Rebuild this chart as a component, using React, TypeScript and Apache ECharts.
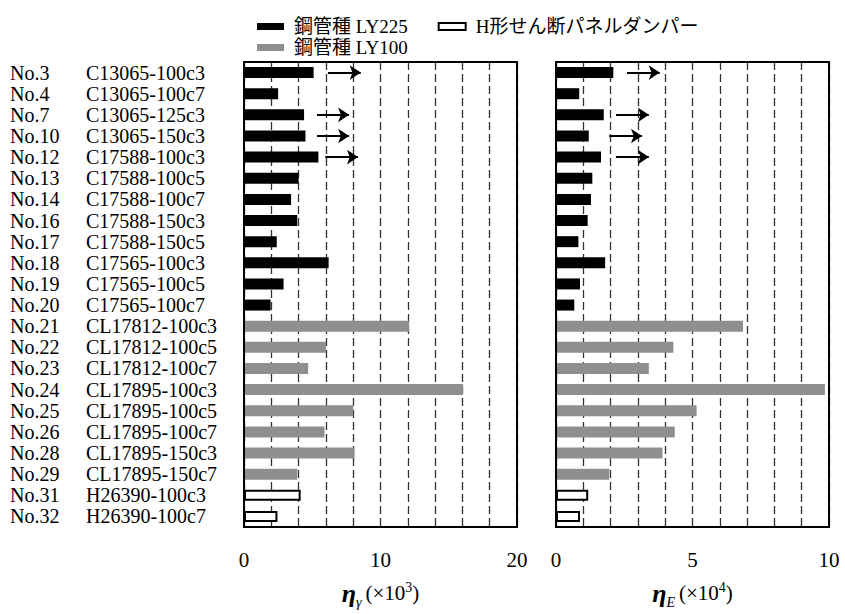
import React, { useEffect, useRef } from "react";
import * as echarts from "echarts";

const ids = ["No.3","No.4","No.7","No.10","No.12","No.13","No.14","No.16","No.17","No.18","No.19","No.20","No.21","No.22","No.23","No.24","No.25","No.26","No.28","No.29","No.31","No.32"];
const specimens = ["C13065-100c3","C13065-100c7","C13065-125c3","C13065-150c3","C17588-100c3","C17588-100c5","C17588-100c7","C17588-150c3","C17588-150c5","C17565-100c3","C17565-100c5","C17565-100c7","CL17812-100c3","CL17812-100c5","CL17812-100c7","CL17895-100c3","CL17895-100c5","CL17895-100c7","CL17895-150c3","CL17895-150c7","H26390-100c3","H26390-100c7"];

const seriesNames = ["鋼管種 LY225", "鋼管種 LY100", "H形せん断パネルダンパー"];

// eta_gamma (x10^3)
const gammaLY225 = [5.1, 2.5, 4.4, 4.5, 5.45, 4.0, 3.45, 3.9, 2.4, 6.2, 2.9, 1.95];
const gammaLY100 = [12.1, 6.0, 4.7, 16.05, 8.0, 5.9, 8.1, 3.9];
const gammaH = [4.15, 2.45];
// eta_E (x10^4)
const eLY225 = [2.1, 0.85, 1.75, 1.2, 1.65, 1.33, 1.28, 1.16, 0.82, 1.8, 0.88, 0.67];
const eLY100 = [6.85, 4.3, 3.4, 9.85, 5.15, 4.35, 3.9, 1.95];
const eH = [1.18, 0.88];

// arrows (specimen, from, to)
const gammaArrowIds = ["No.3", "No.7", "No.10", "No.12"];
const gammaArrowFrom = [6.15, 5.35, 5.35, 5.95];
const gammaArrowTo = [8.55, 7.7, 7.7, 8.35];
const eArrowIds = ["No.3", "No.7", "No.10", "No.12"];
const eArrowFrom = [2.6, 2.2, 1.95, 2.2];
const eArrowTo = [3.8, 3.4, 3.15, 3.4];

const SERIF = "'Liberation Serif', 'Noto Sans CJK JP', serif";

function pad(vals: number[], offset: number): (number | string)[] {
  const out: (number | string)[] = ids.map(() => "-");
  vals.forEach((v, i) => (out[offset + i] = v));
  return out;
}

export default function App() {
  const ref = useRef<HTMLDivElement>(null);
  useEffect(() => {
    if (!ref.current) return;
    const chart = echarts.init(ref.current, undefined, { renderer: "svg" });

    const styles = [
      { color: "#000000" },
      { color: "#8f8f8f" },
      { color: "#ffffff", borderColor: "#000000", borderWidth: 2 },
    ];

    const makeArrows = (aIds: string[], from: number[], to: number[]) => ({
      silent: true,
      symbol: ["none", "arrow"],
      symbolSize: [11, 11],
      label: { show: false },
      lineStyle: { color: "#000", width: 2, type: "solid" },
      data: aIds.map((id, i) => [
        { coord: [from[i], id] },
        { coord: [to[i], id] },
      ]),
    });

    const buildSeries = (axisIdx: number, a: number[], b: number[], c: number[], arrows: any) => [
      { name: seriesNames[0], data: pad(a, 0), markLine: arrows },
      { name: seriesNames[1], data: pad(b, a.length) },
      { name: seriesNames[2], data: pad(c, a.length + b.length) },
    ].map((s, i) => ({
      ...s,
      type: "bar",
      stack: "p" + axisIdx,
      xAxisIndex: axisIdx,
      yAxisIndex: axisIdx,
      barWidth: 11,
      itemStyle: styles[i],
    }));

    const xAxisCommon = {
      type: "value",
      axisTick: { show: false },
      axisLine: { show: false },
      nameLocation: "middle",
      nameGap: 50,
      splitLine: { show: true, lineStyle: { color: "#333", width: 1.3, type: [8, 4] } },
    };

    const nameRich = {
      eta: { fontFamily: SERIF, fontSize: 26, fontWeight: "bold", fontStyle: "italic", color: "#000", lineHeight: 32 },
      sub: { fontFamily: SERIF, fontSize: 14, fontStyle: "italic", color: "#000", verticalAlign: "bottom", lineHeight: 32, padding: [0, 4, 0, 0] },
      txt: { fontFamily: SERIF, fontSize: 21, color: "#000", lineHeight: 32 },
      sup: { fontFamily: SERIF, fontSize: 14, color: "#000", verticalAlign: "top", lineHeight: 32, padding: [4, 0, 0, 0] },
    };

    chart.setOption({
      animation: false,
      backgroundColor: "#ffffff",
      legend: [
        {
          data: [seriesNames[0], seriesNames[2]],
          left: 252,
          top: 12,
          icon: "rect",
          itemWidth: 27,
          itemHeight: 7,
          itemGap: 30,
          selectedMode: false,
          textStyle: { fontFamily: SERIF, fontSize: 19, color: "#000", padding: [0, 0, 0, 5] },
        },
        {
          data: [seriesNames[1]],
          left: 252,
          top: 33,
          icon: "rect",
          itemWidth: 27,
          itemHeight: 7,
          selectedMode: false,
          textStyle: { fontFamily: SERIF, fontSize: 19, color: "#000", padding: [0, 0, 0, 5] },
        },
      ],
      grid: [
        { left: 244, top: 62, width: 273, height: 468, show: true, borderColor: "#000", borderWidth: 2, backgroundColor: "transparent", z: 10 },
        { left: 556, top: 62, width: 273, height: 468, show: true, borderColor: "#000", borderWidth: 2, backgroundColor: "transparent", z: 10 },
      ],
      xAxis: [
        {
          ...xAxisCommon,
          gridIndex: 0,
          min: 0,
          max: 20,
          interval: 2,
          axisLabel: {
            fontFamily: SERIF, fontSize: 21, color: "#000", margin: 22,
            formatter: (v: number) => (v % 10 === 0 ? String(v) : ""),
          },
          name: "{eta|η}{sub|γ}{txt|(×10}{sup|3}{txt|)}",
          nameTextStyle: { rich: nameRich },
        },
        {
          ...xAxisCommon,
          gridIndex: 1,
          min: 0,
          max: 10,
          interval: 1,
          axisLabel: {
            fontFamily: SERIF, fontSize: 21, color: "#000", margin: 22,
            formatter: (v: number) => (v % 5 === 0 ? String(v) : ""),
          },
          name: "{eta|η}{sub|E}{txt|(×10}{sup|4}{txt|)}",
          nameTextStyle: { rich: nameRich },
        },
      ],
      yAxis: [
        {
          type: "category",
          gridIndex: 0,
          data: ids,
          inverse: true,
          z: 5,
          axisTick: { show: false },
          axisLine: { show: true, lineStyle: { color: "#000", width: 2 } },
          axisLabel: {
            align: "left",
            margin: 234,
            interval: 0,
            formatter: (v: string, i: number) => `{a|${v}}{b|${specimens[i]}}`,
            rich: {
              a: { fontFamily: SERIF, fontSize: 20, color: "#000", width: 76 },
              b: { fontFamily: SERIF, fontSize: 20, color: "#000" },
            },
          },
        },
        {
          type: "category",
          gridIndex: 1,
          data: ids,
          inverse: true,
          z: 5,
          axisTick: { show: false },
          axisLabel: { show: false },
          axisLine: { show: true, lineStyle: { color: "#000", width: 2 } },
        },
      ],
      series: [
        ...buildSeries(0, gammaLY225, gammaLY100, gammaH, makeArrows(gammaArrowIds, gammaArrowFrom, gammaArrowTo)),
        ...buildSeries(1, eLY225, eLY100, eH, makeArrows(eArrowIds, eArrowFrom, eArrowTo)),
      ],
    });
    return () => chart.dispose();
  }, []);
  return (
    <div
      ref={ref}
      style={{ position: "fixed", left: 0, top: 0, width: 845, height: 614 }}
    />
  );
}
